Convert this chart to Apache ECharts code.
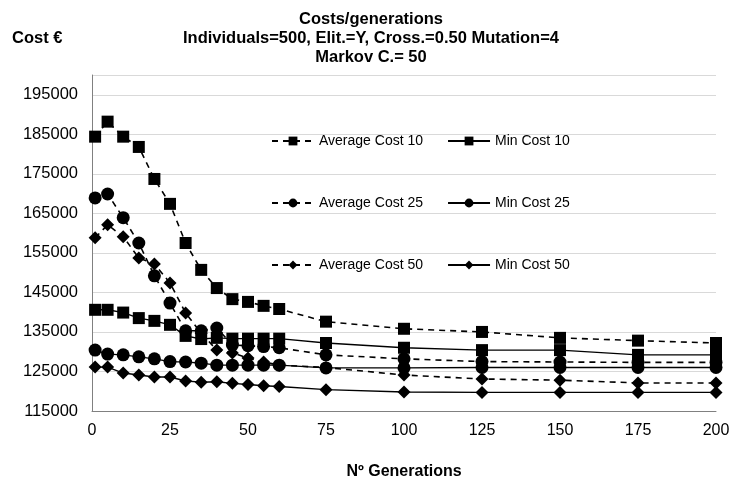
<!DOCTYPE html>
<html>
<head>
<meta charset="utf-8">
<script src="https://cdn.jsdelivr.net/npm/echarts@6/dist/echarts.min.js"></script>
<style>
html,body{margin:0;padding:0;background:#fff;}
#chart{width:736px;height:485px;}
</style>
</head>
<body>
<div id="chart"></div>
<script>
const generations = [1,5,10,15,20,25,30,35,40,45,50,55,60,75,100,125,150,175,200];
const avgCost10 = [184400,188200,184400,181800,173700,167400,157500,150700,146100,143300,142600,141600,140800,137600,135800,135000,133500,132800,132200];
const minCost10 = [140600,140600,139900,138500,137800,136800,134000,133200,133500,133300,133300,133300,133300,132200,131000,130400,130400,129200,129200];
const avgCost25 = [168900,169900,163900,157500,149200,142300,135300,135300,136000,131700,131500,131300,131000,129200,128200,127500,127400,127300,127300];
const minCost25 = [130400,129400,129200,128700,128200,127500,127400,127100,126600,126600,126600,126600,126600,125900,125900,126000,126000,126000,126000];
const avgCost50 = [158800,162100,159100,153700,152200,147400,139800,134700,130400,129700,128400,127400,126600,126000,124100,123100,122800,122100,122100];
const minCost50 = [126100,126100,124600,124100,123600,123600,122600,122300,122400,122000,121700,121400,121200,120400,119800,119700,119700,119700,119700];
const seriesNames = ['Average Cost 10','Min Cost 10','Average Cost 25','Min Cost 25','Average Cost 50','Min Cost 50'];
const titleLines = ['Costs/generations','Individuals=500, Elit.=Y, Cross.=0.50 Mutation=4','Markov C.= 50'];

function pairs(vals){ return generations.map((g,i)=>[g, vals[i]]); }

const chart = echarts.init(document.getElementById('chart'), null, {renderer:'canvas'});
const sans = "'Liberation Sans',Arial,sans-serif";

function mk(name, vals, symbol, size, dashed){
  return {
    name: name, type:'line', data: pairs(vals),
    symbol: symbol, symbolSize: size, showSymbol:true,
    itemStyle:{color:'#000'},
    lineStyle:{color:'#000', width: dashed?1.6:1.4, type: dashed?[6,5]:'solid'},
    emphasis:{disabled:true}, animation:false, z: dashed?2:3
  };
}
const legendBase = {
  itemWidth: 42, itemHeight: 11, itemGap: 24,
  textStyle:{fontFamily:sans, fontSize:14, color:'#000'},
  selectedMode:false
};

chart.setOption({
  backgroundColor:'#fff',
  animation:false,
  title:[
    {text: titleLines.join('\n'), left: 366, top: 5, textAlign:'center',
     textStyle:{fontFamily:sans, fontSize:16.5, fontWeight:'bold', color:'#000', lineHeight:19}},
    {text: 'Cost €', left: 7, top: 25,
     textStyle:{fontFamily:sans, fontSize:16.5, fontWeight:'bold', color:'#000'}}
  ],
  legend:[
    Object.assign({}, legendBase, {data:['Average Cost 10','Min Cost 10'], left: 266, top: 129}),
    Object.assign({}, legendBase, {data:['Average Cost 25','Min Cost 25'], left: 266, top: 191}),
    Object.assign({}, legendBase, {data:['Average Cost 50','Min Cost 50'], left: 266, top: 253})
  ],
  grid:{left:92, right:20, top:75, bottom:74, containLabel:false},
  xAxis:{
    type:'value', min:0, max:200, interval:25,
    name:'Nº Generations', nameLocation:'middle', nameGap:53,
    nameTextStyle:{fontFamily:sans, fontSize:16, fontWeight:'bold', color:'#000'},
    axisLine:{show:true, lineStyle:{color:'#808080', width:1}},
    axisTick:{show:false},
    axisLabel:{fontFamily:sans, fontSize:16, color:'#000', margin:12},
    splitLine:{show:false}
  },
  yAxis:{
    type:'value', min:115000, max:200000, interval:10000,
    axisLine:{show:true, lineStyle:{color:'#808080', width:1}},
    axisTick:{show:false},
    axisLabel:{fontFamily:sans, fontSize:16.5, color:'#000', margin:14, showMaxLabel:false,
      formatter: v => String(v)},
    splitLine:{show:true, lineStyle:{color:'#d9d9d9', width:1}}
  },
  series:[
    mk(seriesNames[0], avgCost10, 'rect', 12, true),
    mk(seriesNames[1], minCost10, 'rect', 12, false),
    mk(seriesNames[2], avgCost25, 'circle', 13, true),
    mk(seriesNames[3], minCost25, 'circle', 13, false),
    mk(seriesNames[4], avgCost50, 'diamond', 13, true),
    mk(seriesNames[5], minCost50, 'diamond', 13, false)
  ]
});
</script>
</body>
</html>
